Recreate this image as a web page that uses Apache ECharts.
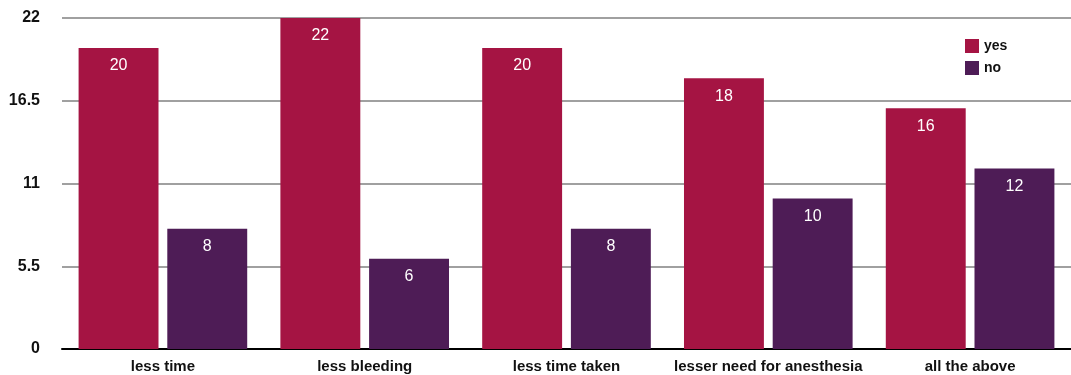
<!DOCTYPE html>
<html>
<head>
<meta charset="utf-8">
<script src="https://cdn.jsdelivr.net/npm/echarts@6/dist/echarts.min.js"></script>
<style>
  html, body { margin: 0; padding: 0; background: #fff; }
  #chart { width: 1071px; height: 375px; }
</style>
</head>
<body>
<div id="chart"></div>
<script>
// data
var categories = ['less time', 'less bleeding', 'less time taken', 'lesser need for anesthesia', 'all the above'];
var yesValues = [20, 22, 20, 18, 16];
var noValues = [8, 6, 8, 10, 12];

var myChart = echarts.init(document.getElementById('chart'));

var labelStyle = {
  show: true,
  position: 'insideTop',
  distance: 10,
  color: '#fff',
  fontSize: 16,
  fontFamily: 'Liberation Sans, Arial, sans-serif'
};

myChart.setOption({
  animation: false,
  color: ['#A51443', '#4E1C56'],
  grid: { left: 62, right: 0, top: 18, bottom: 26 },
  legend: {
    orient: 'vertical',
    left: 960,
    top: 34,
    itemWidth: 14,
    itemHeight: 14,
    itemGap: 8,
    icon: 'rect',
    textStyle: { fontSize: 14, fontWeight: 'bold', color: '#111', fontFamily: 'Liberation Sans, Arial, sans-serif' },
    data: ['yes', 'no']
  },
  xAxis: {
    type: 'category',
    data: categories,
    axisLine: { lineStyle: { color: '#000', width: 2 } },
    axisTick: { show: false },
    axisLabel: { interval: 0, margin: 10, fontSize: 15, fontWeight: 'bold', color: '#111', fontFamily: 'Liberation Sans, Arial, sans-serif' }
  },
  yAxis: {
    type: 'value',
    min: 0,
    max: 22,
    interval: 5.5,
    axisLine: { show: false },
    axisTick: { show: false },
    axisLabel: { margin: 22, fontSize: 16, fontWeight: 'bold', color: '#111', fontFamily: 'Liberation Sans, Arial, sans-serif' },
    splitLine: { lineStyle: { color: '#a0a0a0', width: 2 } }
  },
  series: [
    {
      name: 'yes',
      type: 'bar',
      barWidth: '39.6%',
      barGap: '11%',
      data: yesValues,
      label: labelStyle
    },
    {
      name: 'no',
      type: 'bar',
      barWidth: '39.6%',
      data: noValues,
      label: labelStyle
    }
  ]
});
</script>
</body>
</html>
